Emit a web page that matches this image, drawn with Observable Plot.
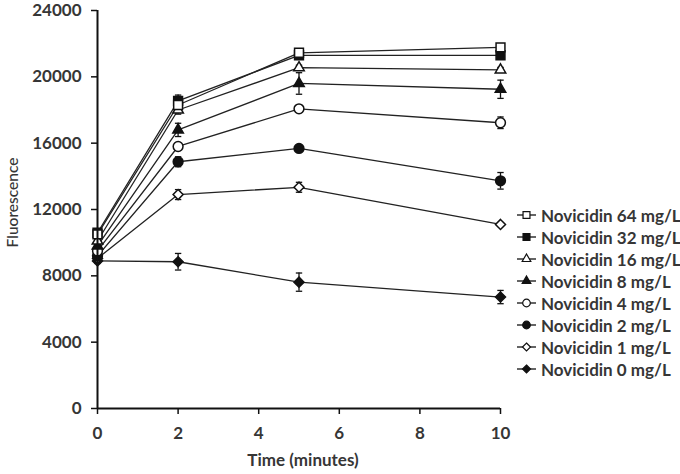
<!DOCTYPE html>
<html>
<head>
<meta charset="utf-8">
<script src="https://cdn.jsdelivr.net/npm/d3@7"></script>
<script src="https://cdn.jsdelivr.net/npm/@observablehq/plot@0.6"></script>
<style>
  html, body { margin: 0; padding: 0; background: #fff; }
  #wrap { position: relative; width: 680px; height: 474px; font-family: Lato, sans-serif; }
  #legend { position: absolute; left: 516px; top: 0; }
  .row { position: absolute; left: 0; height: 20px; display: flex; align-items: center; white-space: nowrap;
         font-weight: 700; font-size: 17px; color: #363636; }
  .row svg { margin-right: 3px; }
</style>
</head>
<body>
<div id="wrap"></div>
<script>
// ---- data ----
const times = [0, 2, 5, 10];
const seriesNames = ["Novicidin 64 mg/L", "Novicidin 32 mg/L", "Novicidin 16 mg/L", "Novicidin 8 mg/L",
                     "Novicidin 4 mg/L", "Novicidin 2 mg/L", "Novicidin 1 mg/L", "Novicidin 0 mg/L"];
const values64 = [10500, 18300, 21450, 21780];
const values32 = [10600, 18550, 21300, 21300];
const values16 = [10100, 18000, 20550, 20420];
const values8  = [9800, 16800, 19600, 19250];
const values4  = [9500, 15800, 18070, 17230];
const values2  = [9200, 14880, 15680, 13730];
const values1  = [9050, 12900, 13340, 11100];
const values0  = [8900, 8850, 7620, 6720];
const errors64 = [150, 250, 150, 200];
const errors32 = [200, 350, 200, 200];
const errors16 = [100, 250, 150, 150];
const errors8  = [100, 400, 650, 550];
const errors4  = [100, 100, 200, 350];
const errors2  = [150, 300, 150, 500];
const errors1  = [150, 300, 300, 100];
const errors0  = [150, 500, 550, 400];
const symbols  = ["square", "square", "triangle", "triangle", "circle", "circle", "diamond2", "diamond2"];
const filled   = [false, true, false, true, false, true, false, true];
const xTicks = [0, 2, 4, 6, 8, 10];
const yTicks = [0, 4000, 8000, 12000, 16000, 20000, 24000];

const allValues = [values64, values32, values16, values8, values4, values2, values1, values0];
const allErrors = [errors64, errors32, errors16, errors8, errors4, errors2, errors1, errors0];

const data = [];
seriesNames.forEach((name, i) => {
  times.forEach((t, j) => {
    data.push({series: name, idx: i, t, v: allValues[i][j], e: allErrors[i][j]});
  });
});

const ink = "#111";
const textColor = "#363636";
const symbolR = {square: 5, triangle: 3.9, circle: 4.9, diamond2: 4.5};

const capSymbol = {
  draw(ctx, size) { const w = Math.sqrt(size) / 2; ctx.moveTo(-w, 0); ctx.lineTo(w, 0); }
};

const marks = [
  Plot.line(data, {x: "t", y: "v", z: "series", stroke: "#222", strokeWidth: 1.3}),
  Plot.ruleX(data, {x: "t", y1: d => d.v - d.e, y2: d => d.v + d.e, stroke: ink, strokeWidth: 1.3}),
  Plot.dot(data, {x: "t", y: d => d.v + d.e, symbol: capSymbol, r: 3.6, stroke: ink, strokeWidth: 1.3}),
  Plot.dot(data, {x: "t", y: d => d.v - d.e, symbol: capSymbol, r: 3.6, stroke: ink, strokeWidth: 1.3}),
];
// draw lowest series first so the top ones sit above
for (let i = seriesNames.length - 1; i >= 0; i--) {
  marks.push(Plot.dot(data.filter(d => d.idx === i), {
    x: "t", y: "v", symbol: symbols[i], r: symbolR[symbols[i]],
    fill: filled[i] ? ink : "#fff", stroke: ink, strokeWidth: 1.5
  }));
}
marks.push(
  Plot.axisX({ticks: xTicks, tickSize: 6, tickPadding: 12, tickFormat: d3.format("d"), label: null,
    fontSize: 17, fontWeight: "bold", fill: textColor, stroke: ink, strokeWidth: 1.5}),
  Plot.axisY({ticks: yTicks, tickSize: 6, tickPadding: 10, tickFormat: d3.format("d"), label: null,
    fontSize: 17, fontWeight: "bold", fill: textColor, stroke: ink, strokeWidth: 1.5}),
  Plot.ruleY([0], {stroke: ink, strokeWidth: 2}),
  Plot.ruleX([0], {stroke: ink, strokeWidth: 2}),
  Plot.text(["Fluorescence"], {frameAnchor: "left", textAnchor: "middle", rotate: -90, dx: -84, dy: -7,
    fontSize: 15.5, fill: textColor, fontWeight: 500}),
  Plot.text(["Time (minutes)"], {frameAnchor: "bottom", dy: 57, dx: 4,
    fontSize: 17, fill: textColor, fontWeight: "bold"})
);

const chart = Plot.plot({
  width: 680,
  height: 474,
  marginLeft: 97,
  marginRight: 180,
  marginTop: 10,
  marginBottom: 66,
  style: {fontFamily: "Lato, sans-serif", background: "#fff", overflow: "visible"},
  x: {domain: [0, 10], axis: null},
  y: {domain: [0, 24000], axis: null},
  marks
});

const wrap = document.getElementById("wrap");
wrap.appendChild(chart);

// ---- legend ----
const legend = document.createElement("div");
legend.id = "legend";
const symbolMap = {square: d3.symbolSquare, triangle: d3.symbolTriangle, circle: d3.symbolCircle, diamond2: d3.symbolDiamond2};
const legendR = {square: 3.9, triangle: 3.2, circle: 3.8, diamond2: 3.6};
seriesNames.forEach((name, i) => {
  const row = document.createElement("div");
  row.className = "row";
  row.style.top = (205 + i * 22) + "px";
  const s = symbols[i];
  const size = Math.PI * legendR[s] * legendR[s];
  const path = d3.symbol(symbolMap[s], size)();
  row.innerHTML = `<svg width="22" height="14" viewBox="0 0 22 14">
    <line x1="1" x2="20" y1="7" y2="7" stroke="${ink}" stroke-width="1.3"/>
    <path d="${path}" transform="translate(10.5,7)" fill="${filled[i] ? ink : "#fff"}" stroke="${ink}" stroke-width="1.2"/>
  </svg><span>${name}</span>`;
  legend.appendChild(row);
});
wrap.appendChild(legend);
</script>
</body>
</html>
